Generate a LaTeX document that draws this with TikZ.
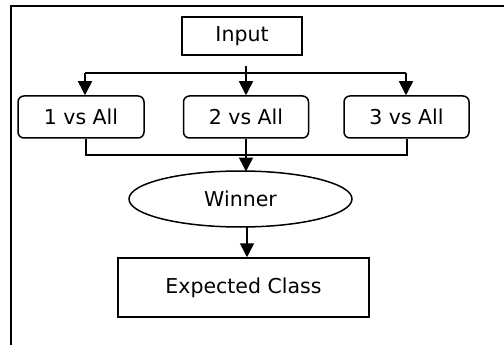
\documentclass[tikz,border=0pt]{standalone}
\usepackage{fontspec}
\setmainfont{DejaVu Sans}
\usetikzlibrary{arrows.meta,shapes.geometric}

\begin{document}
\begin{tikzpicture}[x=1pt,y=-1pt,line width=1.5pt,
  every node/.style={font=\fontsize{20.5pt}{22pt}\selectfont,draw,inner sep=0pt},
  arr/.style={-{Triangle[width=14pt,length=14pt]}}]
  \useasboundingbox (0,0) rectangle (504,345);
  % outer frame, only left and top edges
  \draw[line width=2pt] (11,345) -- (11,6) -- (504,6);
  \node[minimum width=120pt,minimum height=38pt] (in) at (242,36) {Input};
  \node[rounded corners=6pt,minimum width=126pt,minimum height=42pt] (b1) at (81,117)    {1 vs All};
  \node[rounded corners=6pt,minimum width=125pt,minimum height=42pt] (b2) at (246,117) {2 vs All};
  \node[rounded corners=6pt,minimum width=125pt,minimum height=42pt] (b3) at (406.5,117) {3 vs All};
  \node[ellipse,minimum width=223pt,minimum height=56pt] (win) at (240.5,199) {Winner};
  \node[minimum width=251pt,minimum height=59pt] (cls) at (243.5,287.5) {Expected Class};
  % split from input
  \coordinate (top) at (246,66);
  \coordinate (s1)  at (85,73);
  \coordinate (s3)  at (406,73);
  \draw (s1) -- (s3);
  \draw[arr] (top) -- (b2.north);
  \draw[arr] (s1) -- (s1 |- b1.north);
  \draw[arr] (s3) -- (s3 |- b3.north);
  % join into winner
  \coordinate (j1) at (86,155);
  \coordinate (j3) at (407,155);
  \coordinate (m2) at (246,171.5);
  \coordinate (w2) at (247,227);
  \draw (j1 |- b1.south) -- (j1) -- (j3) -- (j3 |- b3.south);
  \draw[arr] (b2.south) -- (m2);
  \draw[arr] (w2) -- (w2 |- cls.north);
\end{tikzpicture}
\end{document}
